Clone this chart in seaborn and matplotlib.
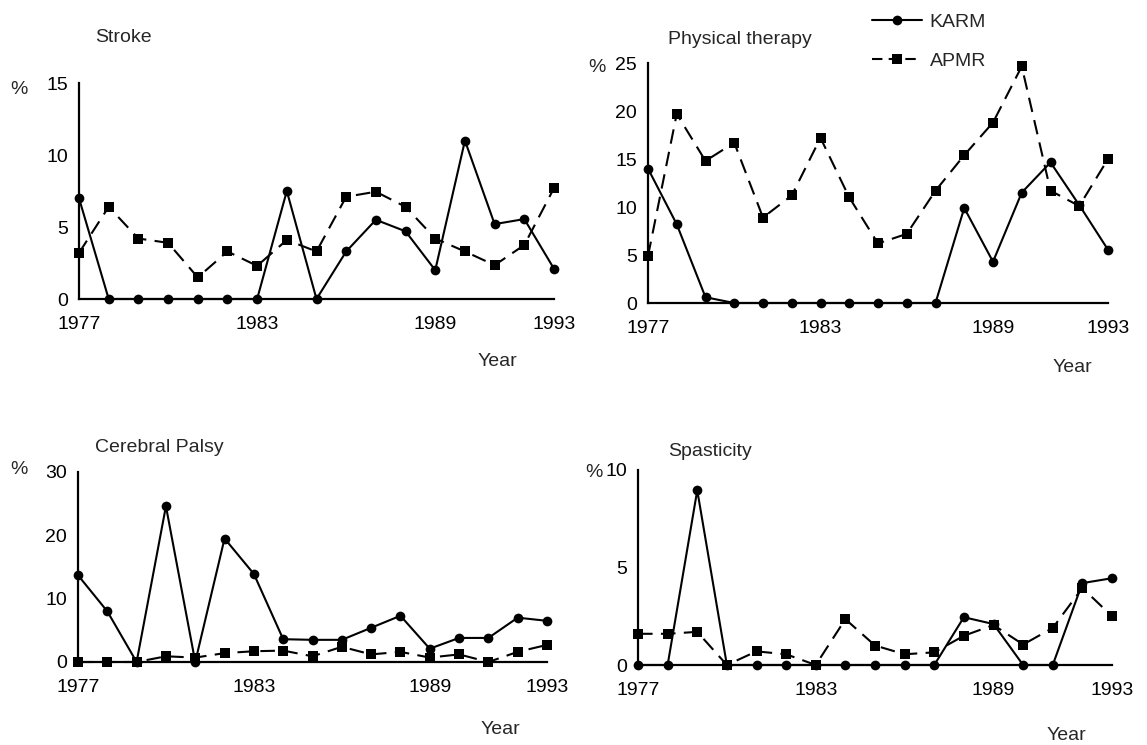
import matplotlib
matplotlib.use("Agg")
import matplotlib.pyplot as plt
import seaborn as sns
import numpy as np
from matplotlib.lines import Line2D

years = list(range(1977, 1994))

stroke_karm = [7.0, 0, 0, 0, 0, 0, 0, 7.5, 0, 3.3, 5.5, 4.7, 2.0, 11.0, 5.2, 5.55, 2.1]
stroke_apmr = [3.2, 6.4, 4.2, 3.9, 1.5, 3.3, 2.3, 4.1, 3.3, 7.1, 7.45, 6.4, 4.2, 3.3, 2.35, 3.75, 7.7]

pt_karm = [14.0, 8.2, 0.6, 0, 0, 0, 0, 0, 0, 0, 0, 9.9, 4.3, 11.5, 14.65, 10.2, 5.55]
pt_apmr = [4.9, 19.7, 14.8, 16.7, 8.9, 11.2, 17.2, 11.0, 6.2, 7.2, 11.7, 15.4, 18.8, 24.65, 11.7, 10.1, 15.0]

cp_karm = [13.7, 8.0, 0, 24.6, 0, 19.5, 13.9, 3.6, 3.5, 3.5, 5.4, 7.3, 2.1, 3.8, 3.8, 7.0, 6.5]
cp_apmr = [0, 0, 0, 0.9, 0.7, 1.4, 1.7, 1.8, 0.9, 2.4, 1.2, 1.6, 0.7, 1.2, 0, 1.6, 2.7]

sp_karm = [0, 0, 8.96, 0, 0, 0, 0, 0, 0, 0, 0, 2.45, 2.1, 0, 0, 4.2, 4.45]
sp_apmr = [1.6, 1.6, 1.7, 0, 0.7, 0.55, 0, 2.35, 1.0, 0.55, 0.65, 1.5, 2.05, 1.05, 1.9, 3.95, 2.5]

titles = ["Stroke", "Physical therapy", "Cerebral Palsy", "Spasticity"]
ymax = [15, 25, 30, 10]
ystep = [5, 5, 10, 5]
labeled_years = [1977, 1983, 1989, 1993]
series_names = ["KARM", "APMR"]

sns.set_theme(style="white")
plt.rcParams['font.family'] = ['Liberation Sans', 'DejaVu Sans']

W, H = 1147, 745
fig = plt.figure(figsize=(W / 100, H / 100), dpi=100)

def frac_rect(x0, x1, y_top, y_bot):
    return [x0 / W, 1 - y_bot / H, (x1 - x0) / W, (y_bot - y_top) / H]

rects = [
    frac_rect(79, 554, 83, 299),
    frac_rect(648, 1108, 63, 303),
    frac_rect(78, 547, 472, 662),
    frac_rect(638, 1112, 470, 665),
]
title_pos = [(95, 38), (668, 40), (95, 447), (668, 452)]
pct_pos = [(10, 90), (588, 68), (10, 470), (585, 472)]
year_pos = [(497, 362), (1072, 367), (500, 730), (1066, 735)]

data = [(stroke_karm, stroke_apmr), (pt_karm, pt_apmr), (cp_karm, cp_apmr), (sp_karm, sp_apmr)]
FS = 14

for i in range(4):
    ax = fig.add_axes(rects[i])
    k, a = data[i]
    sns.lineplot(x=years, y=k, ax=ax, color="black", marker="o", markersize=7,
                 linewidth=1.5, markeredgewidth=0, clip_on=False, zorder=4)
    sns.lineplot(x=years, y=a, ax=ax, color="black", marker="s", markersize=7,
                 linewidth=1.5, markeredgewidth=0, clip_on=False, zorder=3)
    ax.lines[-1].set_dashes([7, 4])
    ax.set_xlim(1977, 1993)
    ax.set_ylim(0, ymax[i])
    ax.set_xticks(years)
    ax.set_xticklabels([str(y) if y in labeled_years else "" for y in years], fontsize=FS)
    ax.set_yticks(np.arange(0, ymax[i] + 1, ystep[i]))
    ax.set_yticklabels([str(v) for v in np.arange(0, ymax[i] + 1, ystep[i])], fontsize=FS)
    ax.tick_params(axis='x', direction='in', length=8, width=1.2, pad=12, colors='black')
    ax.tick_params(axis='y', direction='out', length=5, width=1.2, pad=3, colors='black')
    for s in ['top', 'right']:
        ax.spines[s].set_visible(False)
    for s in ['left', 'bottom']:
        ax.spines[s].set_color('black')
        ax.spines[s].set_linewidth(1.6)
    ax.grid(False)
    ax.set_xlabel("")
    ax.set_ylabel("")
    fig.text(title_pos[i][0] / W, 1 - title_pos[i][1] / H, titles[i], fontsize=FS,
             ha='left', va='center')
    fig.text(pct_pos[i][0] / W, 1 - pct_pos[i][1] / H, "%", fontsize=FS,
             ha='left', va='center')
    fig.text(year_pos[i][0] / W, 1 - year_pos[i][1] / H, "Year", fontsize=FS,
             ha='center', va='center')

handles = [
    Line2D([0], [0], color='black', marker='o', markersize=7, lw=1.5, markeredgewidth=0),
    Line2D([0], [0], color='black', marker='s', markersize=7, lw=1.5, markeredgewidth=0,
           dashes=[5, 3]),
]
fig.legend(handles, series_names, loc='upper left', bbox_to_anchor=(854 / W, 1 + 4 / H),
           frameon=False, fontsize=FS, handlelength=2.6, labelspacing=1.1, handletextpad=0.4)

fig.savefig("out.png", dpi=100)
